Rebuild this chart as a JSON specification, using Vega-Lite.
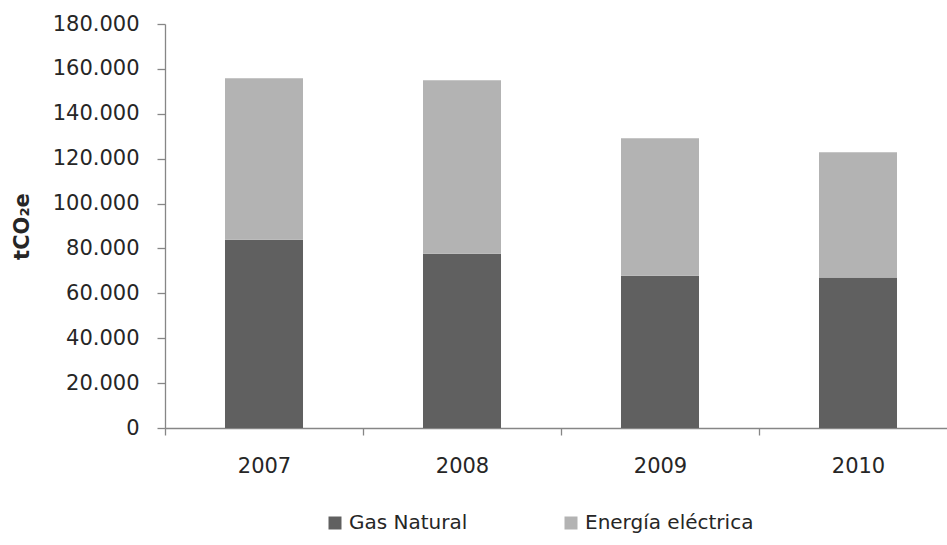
{
  "$schema": "https://vega.github.io/schema/vega-lite/v6.json",
  "autosize": {"type": "none"},
  "padding": {"left": 165, "top": 24, "right": 0, "bottom": 117},
  "width": 782,
  "height": 404,
  "background": "white",
  "data": {
    "values": [
      {"anio": "2007", "fuente": "Gas Natural", "orden": 1, "tCO2e": 83900},
      {"anio": "2007", "fuente": "Energía eléctrica", "orden": 2, "tCO2e": 71900},
      {"anio": "2008", "fuente": "Gas Natural", "orden": 1, "tCO2e": 77600},
      {"anio": "2008", "fuente": "Energía eléctrica", "orden": 2, "tCO2e": 77300},
      {"anio": "2009", "fuente": "Gas Natural", "orden": 1, "tCO2e": 67800},
      {"anio": "2009", "fuente": "Energía eléctrica", "orden": 2, "tCO2e": 61300},
      {"anio": "2010", "fuente": "Gas Natural", "orden": 1, "tCO2e": 67000},
      {"anio": "2010", "fuente": "Energía eléctrica", "orden": 2, "tCO2e": 55900}
    ]
  },
  "mark": {"type": "bar", "width": {"band": 0.394}},
  "encoding": {
    "x": {
      "field": "anio",
      "type": "nominal",
      "scale": {"range": [0, 792], "paddingInner": 0, "paddingOuter": 0},
      "axis": {
        "title": null,
        "labelAngle": 0,
        "tickBand": "extent",
        "tickSize": 7,
        "labelPadding": 20,
        "labelFontSize": 21
      }
    },
    "y": {
      "field": "tCO2e",
      "type": "quantitative",
      "stack": "zero",
      "scale": {"domain": [0, 180000], "nice": false},
      "axis": {
        "title": "tCO₂e",
        "values": [0, 20000, 40000, 60000, 80000, 100000, 120000, 140000, 160000, 180000],
        "labelExpr": "replace(format(datum.value, ','), ',', '.')",
        "tickSize": 8,
        "labelPadding": 18,
        "labelFontSize": 21,
        "titleFontSize": 21,
        "titleFontWeight": "bold",
        "titlePadding": 20,
        "grid": false
      }
    },
    "color": {
      "field": "fuente",
      "type": "nominal",
      "scale": {"domain": ["Gas Natural", "Energía eléctrica"], "range": ["#606060", "#b3b3b3"]},
      "legend": {
        "title": null,
        "orient": "none",
        "direction": "horizontal",
        "legendX": 160,
        "legendY": 489,
        "symbolType": "square",
        "symbolSize": 169,
        "symbolStrokeWidth": 0,
        "labelFontSize": 20,
        "labelOffset": 4,
        "labelLimit": 400,
        "columnPadding": 93,
        "labelColor": "#262626"
      }
    },
    "order": {"field": "orden", "type": "quantitative"}
  },
  "config": {
    "font": "DejaVu Sans",
    "view": {"stroke": null},
    "axis": {
      "domainColor": "#868686",
      "tickColor": "#868686",
      "domainWidth": 1.3,
      "tickWidth": 1.3,
      "labelColor": "#262626",
      "titleColor": "#262626",
      "labelFont": "DejaVu Sans",
      "titleFont": "DejaVu Sans"
    },
    "legend": {"labelFont": "DejaVu Sans"}
  }
}
